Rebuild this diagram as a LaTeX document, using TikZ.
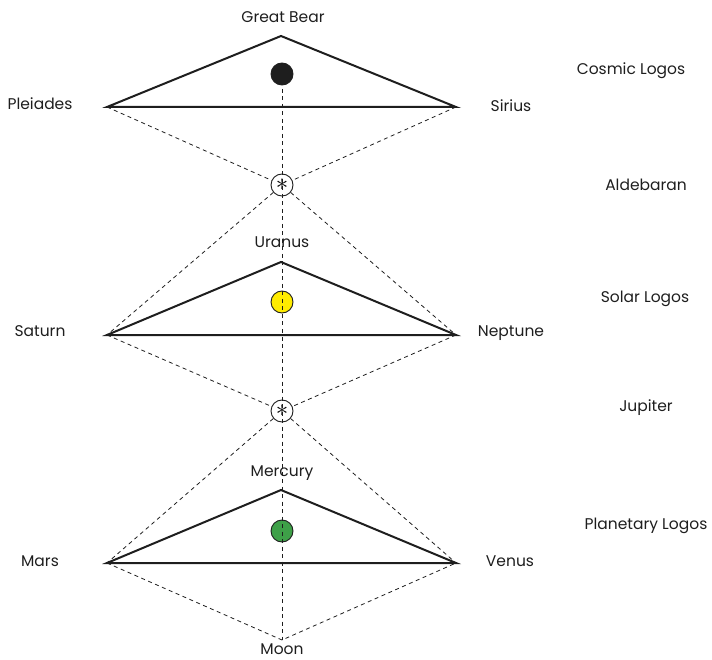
\documentclass[tikz,border=0pt]{standalone}
\usepackage{fontspec}
\setmainfont{Poppins}
\usetikzlibrary{positioning}
\definecolor{xYellow}{RGB}{255,236,0}
\definecolor{xGreen}{RGB}{62,160,72}
\definecolor{xInk}{RGB}{30,30,30}
\tikzset{
  lbl/.style={font=\fontsize{15.5}{17}\selectfont, text=xInk, inner sep=0.5pt},
  orb/.style={circle, draw=xInk, line width=0.9pt, minimum size=22pt, inner sep=0pt},
  starorb/.style={circle, draw=xInk, fill=white, line width=0.9pt, minimum size=22pt, inner sep=0pt, font=\fontsize{24}{24}\selectfont},
  tri/.style={xInk, line width=2pt, line join=miter},
  link/.style={xInk, line width=0.8pt, dash pattern=on 4pt off 3.5pt},
}
\begin{document}
\begin{tikzpicture}[x=1pt, y=-1pt]
    \useasboundingbox (0,0) rectangle (712,660);
    % corners of the three triangles
    \coordinate (gb) at (281,36);
    \coordinate (pl) at (107,107);
    \coordinate (si) at (456,107);
    \coordinate (ur) at (281,262);
    \coordinate (sa) at (107,335);
    \coordinate (ne) at (456,335);
    \coordinate (me) at (281,490);
    \coordinate (ma) at (107,563);
    \coordinate (ve) at (456,563);
    \coordinate (mo) at (282,640);
    % orbs
    \node[orb, fill=xInk]    (cosmic)    at (282,74)  {};
    \node[starorb]           (ald)       at (282,185) {$\ast$};
    \node[orb, fill=xYellow] (solar)     at (282,302) {};
    \node[starorb]           (jup)       at (282,411) {$\ast$};
    \node[orb, fill=xGreen]  (planetary) at (282,531) {};
    % triangles
    \draw[tri] (gb) -- (pl) -- (si) -- cycle;
    \draw[tri] (ur) -- (sa) -- (ne) -- cycle;
    \draw[tri] (me) -- (ma) -- (ve) -- cycle;
    % dashed links
    \draw[link] (cosmic.center) -- (mo);
    \draw[link] (pl) -- (ald) -- (ne);
    \draw[link] (si) -- (ald) -- (sa);
    \draw[link] (sa) -- (jup) -- (ve);
    \draw[link] (ne) -- (jup) -- (ma);
    \draw[link] (ma) -- (mo) -- (ve);
    % labels
    \node[lbl] (lgb) at (283,17)  {Great Bear};
    \node[lbl] (lpl) at (40,104)  {Pleiades};
    \node[lbl] (lsi) at (511,106) {Sirius};
    \node[lbl] (lur) at (282,242) {Uranus};
    \node[lbl] (lsa) at (40,331)  {Saturn};
    \node[lbl] (lne) at (511,333) {Neptune};
    \node[lbl] (lme) at (282,473) {Mercury};
    \node[lbl] (lma) at (40,561)  {Mars};
    \node[lbl] (lve) at (510,561) {Venus};
    \node[lbl] (lmo) at (282,649) {Moon};
    \node[lbl] (lcl) at (631,71)  {Cosmic Logos};
    \node[lbl] (lal) at (646,185) {Aldebaran};
    \node[lbl] (lsl) at (645,299) {Solar Logos};
    \node[lbl] (lju) at (646,408) {Jupiter};
    \node[lbl] (lpo) at (646,526) {Planetary Logos};
\end{tikzpicture}
\end{document}
